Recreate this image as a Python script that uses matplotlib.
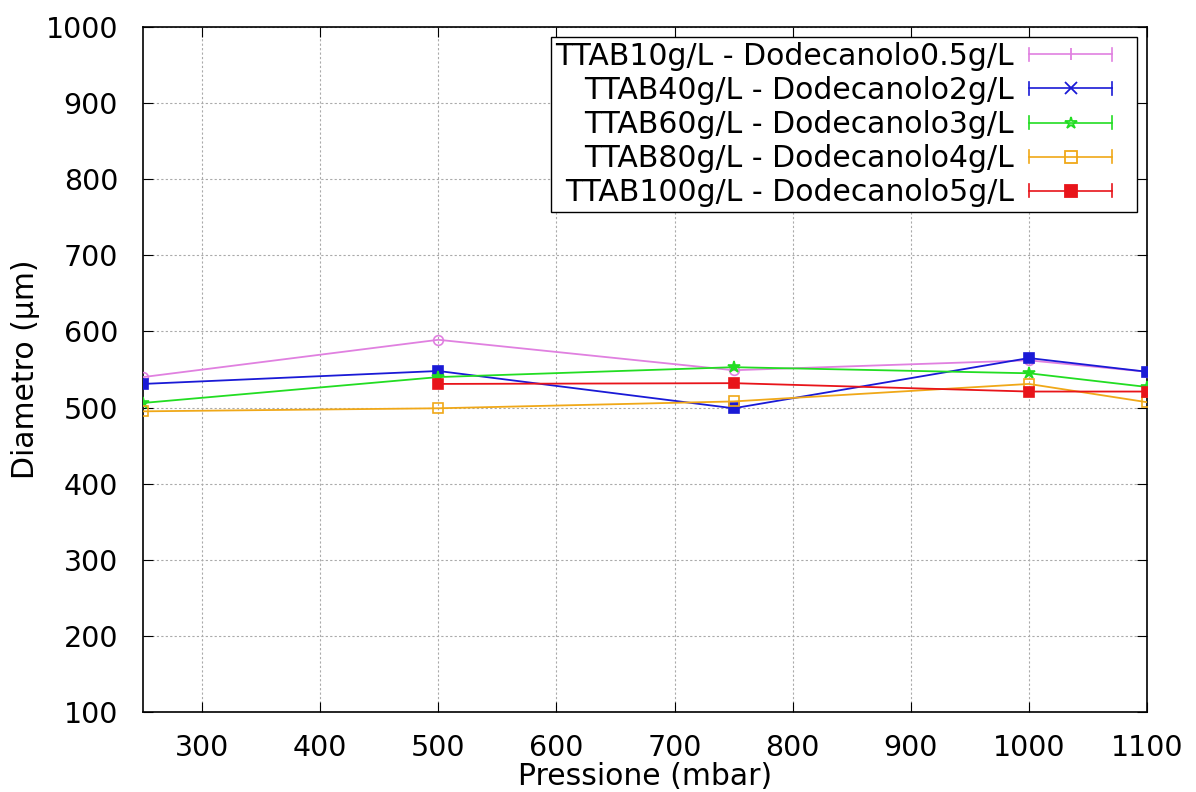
import matplotlib
matplotlib.use("Agg")
import matplotlib.pyplot as plt
from matplotlib.legend_handler import HandlerBase
from matplotlib.lines import Line2D

pressione = [250, 500, 750, 1000, 1100]
pressione_red = [500, 750, 1000, 1100]

labels = ["TTAB10g/L - Dodecanolo0.5g/L",
          "TTAB40g/L - Dodecanolo2g/L",
          "TTAB60g/L - Dodecanolo3g/L",
          "TTAB80g/L - Dodecanolo4g/L",
          "TTAB100g/L - Dodecanolo5g/L"]
ttab10 = [540, 589, 549, 562, 547]
ttab40 = [531, 548, 499, 565, 547]
ttab60 = [506, 540, 553, 545, 527]
ttab80 = [495, 499, 508, 531, 507]
ttab100 = [531, 532, 521, 521]

colors = ["#e080e0", "#1a1ad6", "#22dd22", "#f0a818", "#e8141a"]
plot_markers = ["o", "s", "*", "s", "s"]
plot_fill = ["none", "full", "full", "none", "full"]
leg_markers = ["|", "x", "*", "s", "s"]
leg_fill = ["none", "none", "none", "none", "full"]

fig = plt.figure(figsize=(11.96, 7.92), dpi=100)
ax = fig.add_axes([0.1196, 0.101, 0.8394, 0.865])

series = [(pressione, ttab10), (pressione, ttab40), (pressione, ttab60),
          (pressione, ttab80), (pressione_red, ttab100)]
handles = []
for i, (xs, ys) in enumerate(series):
    ax.plot(xs, ys, color=colors[i], lw=1.3, marker=plot_markers[i],
            ms=7 if plot_markers[i] != "*" else 9,
            fillstyle=plot_fill[i], mec=colors[i], mew=1.2, zorder=3)
    h = Line2D([], [], color=colors[i], lw=1.2, marker=leg_markers[i],
               fillstyle=leg_fill[i], ms=9 if leg_markers[i] != "s" else 8, mew=1.3)
    handles.append(h)


class CapHandler(HandlerBase):
    def create_artists(self, legend, orig, xdescent, ydescent, width, height, fontsize, trans):
        y = height / 2 - ydescent
        x0 = -xdescent
        x1 = x0 + width * 0.81
        c = orig.get_color()
        line = Line2D([x0, x1], [y, y], color=c, lw=1.2)
        cap_h = height * 0.3
        c1 = Line2D([x0, x0], [y - cap_h, y + cap_h], color=c, lw=1.2)
        c2 = Line2D([x1, x1], [y - cap_h, y + cap_h], color=c, lw=1.2)
        m = Line2D([(x0 + x1) / 2], [y], color=c, marker=orig.get_marker(),
                   fillstyle=orig.get_fillstyle(), ms=orig.get_markersize(),
                   mew=1.3, linestyle="none")
        arts = [line, c1, c2, m]
        for a in arts:
            a.set_transform(trans)
        return arts


leg = ax.legend(handles, labels, loc="upper right", fontsize=21.5,
                markerfirst=False, handlelength=3.45, handletextpad=0.5,
                labelspacing=0.17, borderpad=0.15, borderaxespad=0.35,
                fancybox=False, framealpha=1, edgecolor="black",
                handler_map={Line2D: CapHandler()})
leg.get_frame().set_linewidth(1.0)

ax.set_xlim(250, 1100)
ax.set_ylim(100, 1000)
ax.set_xticks([300, 400, 500, 600, 700, 800, 900, 1000, 1100])
ax.set_yticks(range(100, 1001, 100))
ax.tick_params(axis="both", direction="in", labelsize=20.5, top=True, right=True,
               length=7)
ax.tick_params(axis="y", pad=18)
ax.tick_params(axis="x", pad=16)
ax.grid(True, color="#aaaaaa", linestyle=(0, (2, 2)), lw=0.8)
ax.set_axisbelow(True)
for s in ax.spines.values():
    s.set_linewidth(1.2)
ax.set_xlabel("Pressione (mbar)", fontsize=21.5, labelpad=0)
ax.set_ylabel("Diametro (µm)", fontsize=21.5, labelpad=4)

fig.savefig("out.png", dpi=100)
